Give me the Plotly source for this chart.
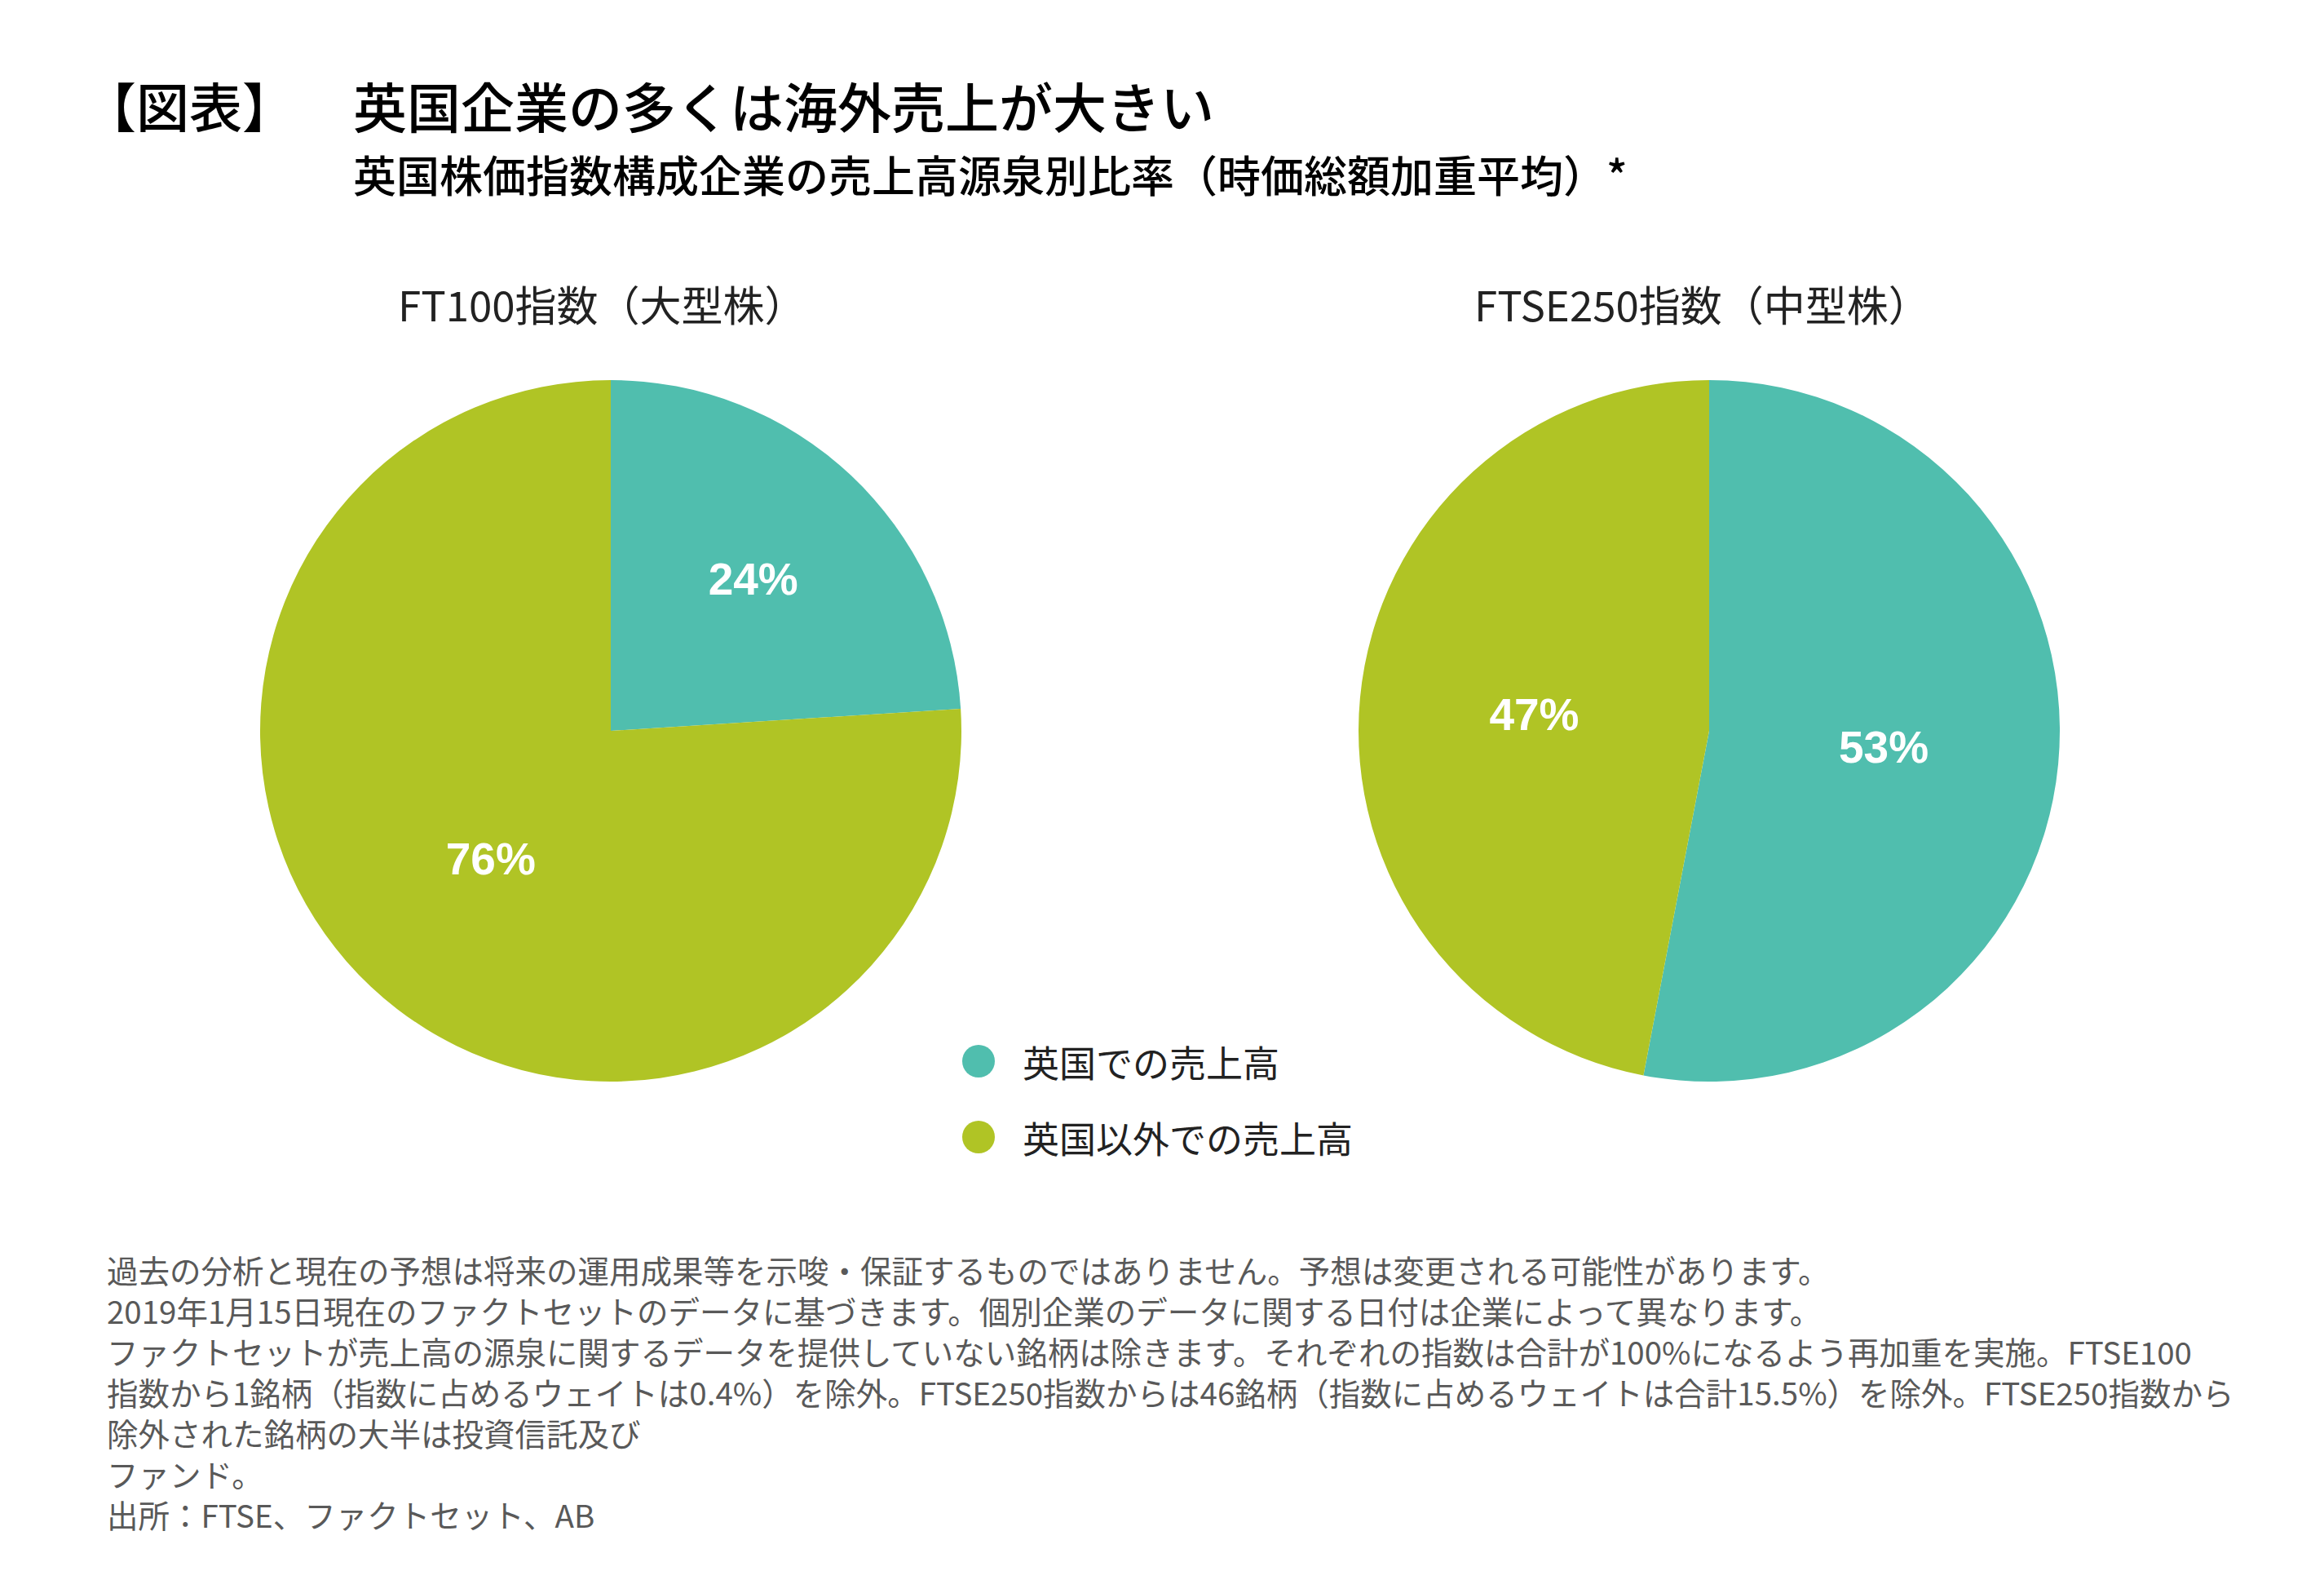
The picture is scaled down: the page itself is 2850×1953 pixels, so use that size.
import plotly.graph_objects as go

# ---- data ----
categories = ["英国での売上高", "英国以外での売上高"]
ft100_values = [24, 76]
ftse250_values = [53, 47]
pie_titles = ["FT100指数（大型株）", "FTSE250指数（中型株）"]
colors = ["#50BEAE", "#B0C425"]

title_tag = "【図表】"
title_main = "英国企業の多くは海外売上が大きい"
subtitle = "英国株価指数構成企業の売上高源泉別比率（時価総額加重平均）*"
footnote_lines = [
    "過去の分析と現在の予想は将来の運用成果等を示唆・保証するものではありません。予想は変更される可能性があります。",
    "2019年1月15日現在のファクトセットのデータに基づきます。個別企業のデータに関する日付は企業によって異なります。",
    "ファクトセットが売上高の源泉に関するデータを提供していない銘柄は除きます。それぞれの指数は合計が100%になるよう再加重を実施。FTSE100",
    "指数から1銘柄（指数に占めるウェイトは0.4%）を除外。FTSE250指数からは46銘柄（指数に占めるウェイトは合計15.5%）を除外。FTSE250指数から",
    "除外された銘柄の大半は投資信託及び",
    "ファンド。",
    "出所：FTSE、ファクトセット、AB",
]

W, H = 2850, 1953
JP = "Noto Sans CJK JP"

def px_x(v):
    return v / W

def px_y(v):
    return 1 - v / H

fig = go.Figure()

R = 430
centers = [(749, 896), (2096, 896)]
for vals, (cx, cy) in zip([ft100_values, ftse250_values], centers):
    fig.add_trace(go.Pie(
        labels=categories,
        values=vals,
        sort=False,
        direction="clockwise",
        rotation=0,
        marker=dict(colors=colors, line=dict(width=0)),
        texttemplate="%{value}%",
        textposition="inside",
        insidetextorientation="horizontal",
        textfont=dict(family="Liberation Sans, Arial", size=55, color="white", weight="bold"),
        hoverinfo="label+value",
        showlegend=False,
        domain=dict(x=[px_x(cx - R), px_x(cx + R)], y=[px_y(cy + R), px_y(cy - R)]),
    ))

annotations = []
shapes = []
annotations.append(dict(text=title_tag, x=px_x(100), y=px_y(128), xref="paper", yref="paper",
                        xanchor="left", yanchor="middle", showarrow=False,
                        font=dict(family=JP, size=65, color="#000000", weight=500)))
annotations.append(dict(text=title_main, x=px_x(431), y=px_y(128), xref="paper", yref="paper",
                        xanchor="left", yanchor="middle", showarrow=False,
                        font=dict(family=JP, size=66, color="#000000", weight=500)))
annotations.append(dict(text=subtitle, x=px_x(431), y=px_y(213), xref="paper", yref="paper",
                        xanchor="left", yanchor="middle", showarrow=False,
                        font=dict(family=JP, size=53, color="#000000", weight=500)))
for t, xc in zip(pie_titles, [738, 2087]):
    annotations.append(dict(text=t, x=px_x(xc), y=px_y(372), xref="paper", yref="paper",
                            xanchor="center", yanchor="middle", showarrow=False,
                            font=dict(family=JP, size=51, color="#222222")))
annotations.append(dict(text="<br>".join(footnote_lines), x=px_x(129), y=px_y(1526),
                        xref="paper", yref="paper", xanchor="left", yanchor="top",
                        align="left", showarrow=False,
                        font=dict(family=JP, size=38.5, color="#595959")))

# legend: circular swatches + labels
leg_x, leg_y0, leg_dy, dot_r = 1200, 1301, 93, 20
for i, (cat, col) in enumerate(zip(categories, colors)):
    cy = leg_y0 + i * leg_dy
    shapes.append(dict(type="circle", xref="paper", yref="paper",
                       x0=px_x(leg_x - dot_r), x1=px_x(leg_x + dot_r),
                       y0=px_y(cy + dot_r), y1=px_y(cy - dot_r),
                       fillcolor=col, line=dict(width=0)))
    annotations.append(dict(text=cat, x=px_x(1252), y=px_y(cy), xref="paper", yref="paper",
                            xanchor="left", yanchor="middle", showarrow=False,
                            font=dict(family=JP, size=45, color="#222222")))

fig.update_layout(
    width=W, height=H,
    margin=dict(l=0, r=0, t=0, b=0),
    paper_bgcolor="white", plot_bgcolor="white",
    annotations=annotations,
    shapes=shapes,
    showlegend=False,
)

fig.write_html("out.html")
